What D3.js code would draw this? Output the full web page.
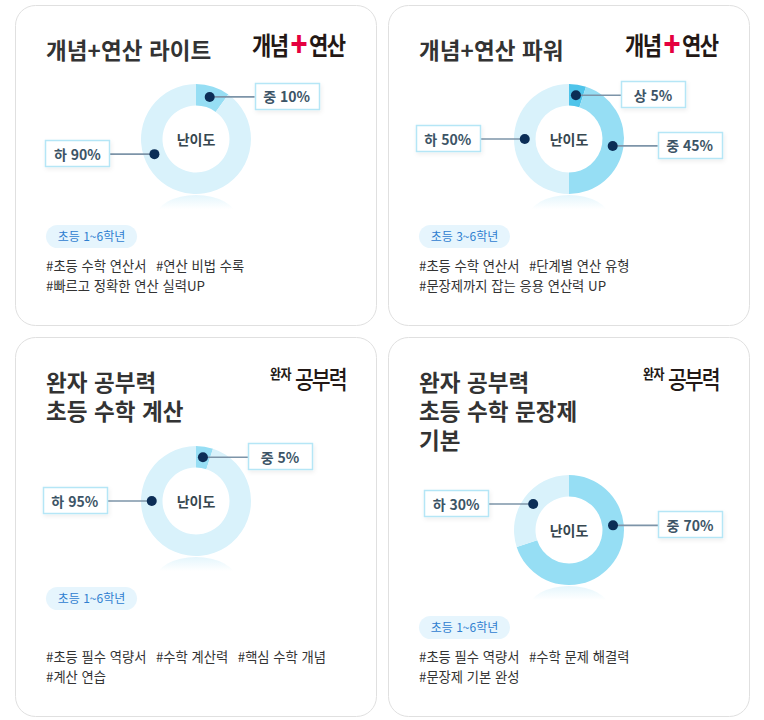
<!DOCTYPE html>
<html lang="ko"><head><meta charset="utf-8">
<script src="https://cdn.jsdelivr.net/npm/d3@7"></script>
<style>
html,body{margin:0;padding:0;background:#fff}
svg{display:block}
text{font-family:"Noto Sans CJK KR","Noto Sans",sans-serif}
</style></head><body><div id="chart"></div>
<script>
// --- data ---
const titles = [["개념+연산 라이트"],["개념+연산 파워"],["완자 공부력","초등 수학 계산"],["완자 공부력","초등 수학 문장제","기본"]];
const logos = ["concept","concept","wanja","wanja"];
const grades = ["초등 1~6학년","초등 3~6학년","초등 1~6학년","초등 1~6학년"];
const tags = [
  [["#초등 수학 연산서","#연산 비법 수록"],["#빠르고 정확한 연산 실력UP"]],
  [["#초등 수학 연산서","#단계별 연산 유형"],["#문장제까지 잡는 응용 연산력 UP"]],
  [["#초등 필수 역량서","#수학 계산력","#핵심 수학 개념"],["#계산 연습"]],
  [["#초등 필수 역량서","#수학 문제 해결력"],["#문장제 기본 완성"]]
];
const levels = [["중","하"],["상","중","하"],["중","하"],["중","하"]];
const shares = [[10,90],[5,45,50],[5,95],[70,30]];
// angle (degrees clockwise from 12 o'clock) at which each callout leaves its slice
const calloutAngles = [[18,250],[9,99,270],[9,270],[84,306]];

// --- layout ---
const W=764,H=720;
const cards=[{x:15.5,y:5.5,w:361,h:320,cx:196,cy:139,py:225,ty:270.5},
             {x:388.5,y:5.5,w:361,h:320,cx:569,cy:139,py:225,ty:270.5},
             {x:15.5,y:337.5,w:361,h:379,cx:196,cy:501,py:587,ty:661.5},
             {x:388.5,y:337.5,w:361,h:379,cx:569,cy:530,py:616,ty:661.5}];
const R=55,r=33.5,gap=45,bw=64,bh=26;
const color=d3.scaleOrdinal().domain(["하","중","상"]).range(["#d9f2fb","#96def4","#4fc4ea"]);

const svg=d3.select("#chart").append("svg").attr("width",W).attr("height",H);
const defs=svg.append("defs");
const g0=defs.append("linearGradient").attr("id","refl").attr("x1",0).attr("x2",0).attr("y1",0).attr("y2",.32);
g0.append("stop").attr("offset",0).attr("stop-color","#d9f2fb").attr("stop-opacity",.7);
g0.append("stop").attr("offset",1).attr("stop-color","#d9f2fb").attr("stop-opacity",0);
const sh=defs.append("filter").attr("id","sh").attr("x","-20%").attr("y","-30%").attr("width","140%").attr("height","170%");
sh.append("feDropShadow").attr("dx",1).attr("dy",2).attr("stdDeviation",2).attr("flood-color","#000").attr("flood-opacity",.07);

const pie=d3.pie().sort(null).value(d=>d);
const arc=d3.arc().innerRadius(r).outerRadius(R);
const rad=d3.scaleLinear().domain([0,360]).range([0,2*Math.PI]);

cards.forEach((c,i)=>{
  const g=svg.append("g");
  g.append("rect").attr("x",c.x).attr("y",c.y).attr("width",c.w).attr("height",c.h).attr("rx",20)
    .attr("fill","#fff").attr("stroke","#e0e0e0").attr("stroke-width",1);
  // title
  const tx=c.x+30.5;
  titles[i].forEach((t,k)=>g.append("text").attr("x",tx).attr("y",c.y+53+k*29)
    .attr("font-size",22.5).attr("font-weight",700).attr("fill","#333").attr("letter-spacing",.1).text(t));
  // logo
  const lx=c.x+c.w-124.5;
  if(logos[i]==="concept"){
    const lg=g.append("g").attr("transform",`translate(${lx},${c.y+49}) scale(1,1.18)`).attr("font-weight",700).attr("font-size",21).attr("fill","#231815");
    lg.append("text").attr("x",0).attr("letter-spacing",-1.5).text("개념");
    lg.append("text").attr("x",38.5).attr("y",1.5).attr("font-size",28).attr("font-weight",900).attr("fill","#e5003f").text("+");
    lg.append("text").attr("x",57).attr("letter-spacing",-1.5).text("연산");
  } else {
    g.append("text").attr("transform",`translate(${lx+18},${c.y+41}) scale(1,1.15)`).attr("font-size",12).attr("font-weight",700).attr("letter-spacing",-.5).attr("fill","#231815").text("완자");
    g.append("text").attr("transform",`translate(${lx+43},${c.y+51.5}) scale(1,1.2)`).attr("font-size",20.5).attr("font-weight",500).attr("letter-spacing",-2).attr("fill","#231815").text("공부력");
  }
  // reflection
  const clipId="c"+i;
  defs.append("clipPath").attr("id",clipId).append("rect").attr("x",c.cx-40).attr("y",c.cy+56).attr("width",80).attr("height",14);
  g.append("ellipse").attr("cx",c.cx).attr("cy",c.cy+78).attr("rx",40).attr("ry",22)
    .attr("fill","url(#refl)").attr("clip-path",`url(#${clipId})`);
  // donut
  const pts=pie(shares[i]);
  const dn=g.append("g").attr("transform",`translate(${c.cx},${c.cy})`);
  dn.selectAll("path").data(pts).join("path").attr("d",arc).attr("fill",(d,k)=>color(levels[i][k]));
  dn.append("text").attr("text-anchor","middle").attr("y",6).attr("font-size",14).attr("font-weight",700).attr("fill","#37474f").text("난이도");
  // callouts
  const call=dn.selectAll("g.call").data(pts).join("g").attr("class","call");
  call.each(function(d,k){
    const a=rad(calloutAngles[i][k]);
    const [px,py]=arc.centroid({startAngle:a,endAngle:a});
    const side=Math.sin(a)>=0?1:-1;
    const el=d3.select(this);
    const bx=side>0?px+gap:px-gap-bw;
    el.append("line").attr("x1",px).attr("y1",py).attr("x2",px+side*gap).attr("y2",py).attr("stroke","#7d94a8").attr("stroke-width",1.6);
    el.append("rect").attr("x",Math.round(c.cx+bx)-c.cx+.5).attr("y",Math.round(c.cy+py-bh/2)-c.cy-.5).attr("width",bw).attr("height",bh)
      .attr("fill","#fff").attr("stroke","#b5e6f6").attr("stroke-width",1.5).attr("filter","url(#sh)");
    el.append("circle").attr("cx",px).attr("cy",py).attr("r",5).attr("fill","#0b2d56");
    el.append("text").attr("x",bx+bw/2).attr("y",py+5.5).attr("text-anchor","middle").attr("font-size",14).attr("font-weight",700).attr("fill","#3c5466")
      .text(`${levels[i][k]} ${d.data}%`);
  });
  // grade pill
  g.append("rect").attr("x",c.x+30.5).attr("y",c.py).attr("width",91).attr("height",23).attr("rx",11.5).attr("fill","#e6f5fd");
  g.append("text").attr("x",c.x+76).attr("y",c.py+15.5).attr("text-anchor","middle").attr("font-size",12).attr("fill","#2f80d0").text(grades[i]);
  // tags
  tags[i].forEach((line,k)=>{
    const t=g.append("text").attr("x",tx).attr("y",c.ty+k*20).attr("font-size",13.3).attr("fill","#333");
    line.forEach((s,m)=>t.append("tspan").attr("dx",m?9.5:0).text(s));
  });
});
</script></body></html>
